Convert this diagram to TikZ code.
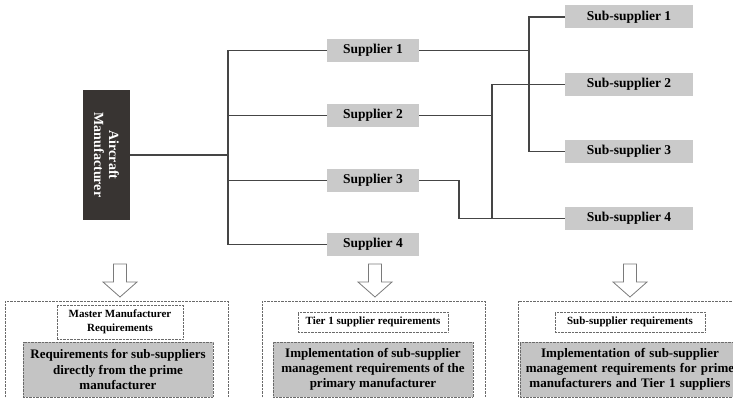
\documentclass[tikz,border=0pt]{standalone}
\usepackage{fontspec}
\setmainfont{Liberation Serif}
\definecolor{linec}{HTML}{454545}
\definecolor{boxgray}{HTML}{CACACA}
\definecolor{darkbox}{HTML}{383432}
\definecolor{biggray}{HTML}{C4C4C4}
\definecolor{dotc}{HTML}{6A6A6A}
\definecolor{arrowc}{HTML}{7A7A7A}
\begin{document}
\begin{tikzpicture}[x=1pt,y=-1pt,
  conn/.style={draw=linec, line width=1.8pt},
  supbox/.style={fill=boxgray, minimum width=92pt, minimum height=23pt, inner sep=0pt,
    font=\bfseries\fontsize{13.5}{15}\selectfont},
  subbox/.style={supbox, minimum width=128pt},
  titlebox/.style={draw=dotc, densely dotted, fill=white, inner sep=0pt, minimum height=20pt,
    align=center, font=\bfseries\fontsize{11}{13.5}\selectfont},
  reqbox/.style={draw=dotc, densely dotted, fill=biggray, inner sep=0pt, minimum height=55pt,
    align=center, font=\bfseries\fontsize{13}{15}\selectfont},
  outerbox/.style={draw=dotc, densely dotted},
  harrow/.pic={\draw[arrowc, line width=0.8pt, fill=white, line join=miter]
    (-6.5,0) -- (6.5,0) -- (6.5,18) -- (17,18) -- (0,33) -- (-17,18) -- (-6.5,18) -- cycle;}
]
\useasboundingbox (0,0) rectangle (733,398);
\clip (0,0) rectangle (733,398);

% main manufacturer
\node[fill=darkbox, minimum width=47pt, minimum height=130pt, inner sep=0pt] (am) at (106.5,155) {};
\node[rotate=-90, text=white, align=center, font=\bfseries\fontsize{14}{15}\selectfont] (amt) at (am.center) {Aircraft\\Manufacturer};

% suppliers
\node[supbox] (s1) at (373,50.5) {Supplier 1};
\node[supbox] (s2) at (373,115.5) {Supplier 2};
\node[supbox] (s3) at (373,180.5) {Supplier 3};
\node[supbox] (s4) at (373,244.5) {Supplier 4};

% sub-suppliers
\node[subbox] (ss1) at (629,17) {Sub-supplier 1};
\node[subbox] (ss2) at (629,84.5) {Sub-supplier 2};
\node[subbox] (ss3) at (629,151.5) {Sub-supplier 3};
\node[subbox] (ss4) at (629,218.5) {Sub-supplier 4};

% junctions
\coordinate (t) at (228,155);
\coordinate (j1) at (529,50.5);
\coordinate (j2) at (492,115.5);
\coordinate (j3) at (459,218.5);

\draw[conn] (am.east) -- (t);
\draw[conn] (s1.west) -- (s1.west -| t) -- (s4.west -| t) -- (s4.west);
\draw[conn] (s2.west) -- (s2.west -| t);
\draw[conn] (s3.west) -- (s3.west -| t);

\draw[conn] (s1.east) -- (j1);
\draw[conn] (ss1.west) -- (ss1.west -| j1) -- (ss3.west -| j1) -- (ss3.west);
\draw[conn] (s2.east) -- (j2);
\draw[conn] (ss2.west) -- (ss2.west -| j2) -- (ss4.west -| j2);
\draw[conn] (s3.east) -| (j3) -- (ss4.west);

% hollow arrows
\pic at (120,264) {harrow};
\pic at (375,264) {harrow};
\pic at (630,264) {harrow};

% bottom sections
\draw[outerbox] (5,301) rectangle (228,420);
\draw[outerbox] (262,301) rectangle (485,420);
\draw[outerbox] (518,301) rectangle (760,420);

\node[titlebox, minimum width=126pt, minimum height=34pt] (t1) at (120,322) {Master Manufacturer\\Requirements};
\node[titlebox, minimum width=150pt] (t2) at (373,322) {Tier 1 supplier requirements};
\node[titlebox, minimum width=150pt] (t3) at (630,322) {Sub-supplier requirements};

\node[reqbox, minimum width=190pt] (r1) at (118,369.5) {Requirements for sub-suppliers\\directly from the prime\\manufacturer};
\node[reqbox, minimum width=200pt] (r2) at (373,369.5) {Implementation of sub-supplier\\management requirements of the\\primary manufacturer};
\node[reqbox, minimum width=220pt, text width=220pt] (r3) at (630,369.5) {Implementation of sub-supplier\\management requirements for prime\\manufacturers and Tier 1 suppliers};
\end{tikzpicture}
\end{document}
